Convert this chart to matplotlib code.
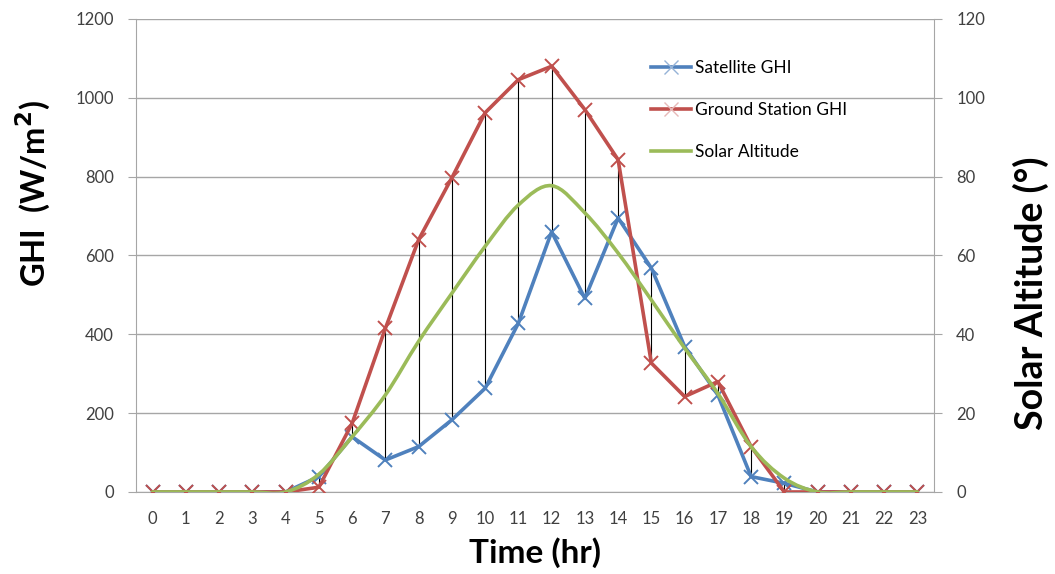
import matplotlib.pyplot as plt
import numpy as np
from matplotlib.path import Path
from matplotlib.patches import PathPatch
from matplotlib.lines import Line2D

plt.rcParams['font.family'] = ['Lato', 'DejaVu Sans']

hours = list(range(24))
satelliteGHI = [0, 0, 0, 0, 0, 39, 140, 81, 115, 183, 263, 428, 660, 491,
				695, 568, 369, 246, 39, 22, 0, 0, 0, 0]
groundGHI = [0, 0, 0, 0, 0, 12, 174, 415, 640, 797, 962, 1046, 1080, 970,
			 843, 327, 242, 280, 115, 0, 0, 0, 0, 0]
solarAltitude = [0, 0, 0, 0, 0, 4.5, 14, 24.6, 38.2, 50.4, 62.3, 72.8, 77.7, 70.8,
				 60.6, 48.7, 36.5, 25, 11.5, 3.5, 0, 0, 0, 0]

blue = '#4F81BD'
red = '#C0504D'
green = '#9BBB59'
grey = '#A6A6A6'
txt = '#404040'


def smoothPath(x, y):
	"""Bezier path through the points, like Excel's smoothed line."""
	x = np.asarray(x, float)
	y = np.asarray(y, float)
	n = len(x)
	verts = [(x[0], y[0])]
	codes = [Path.MOVETO]
	for i in range(n - 1):
		x0, y0 = (x[i - 1], y[i - 1]) if i > 0 else (x[i], y[i])
		x3, y3 = (x[i + 2], y[i + 2]) if i + 2 < n else (x[i + 1], y[i + 1])
		c1 = (x[i] + (x[i + 1] - x0) / 6, y[i] + (y[i + 1] - y0) / 6)
		c2 = (x[i + 1] - (x3 - x[i]) / 6, y[i + 1] - (y3 - y[i]) / 6)
		verts += [c1, c2, (x[i + 1], y[i + 1])]
		codes += [Path.CURVE4] * 3
	return Path(verts, codes)


fig = plt.figure(figsize=(10.55, 5.74), dpi=100)
ax = fig.add_axes([0.1289, 0.1429, 0.8853 - 0.1289, 0.967 - 0.1429])
ax2 = ax.twinx()

# high-low lines between the two GHI series
lows = np.minimum(satelliteGHI, groundGHI)
highs = np.maximum(satelliteGHI, groundGHI)
ax.vlines(hours, lows, highs, color='black', lw=0.8, zorder=2)

ax.plot(hours, satelliteGHI, color=blue, lw=2.6, marker='x', markersize=10,
		mew=1.4, zorder=3)
ax.plot(hours, groundGHI, color=red, lw=2.6, marker='x', markersize=10,
		mew=1.4, zorder=4)
ax2.add_patch(PathPatch(smoothPath(hours, solarAltitude), fill=False,
						edgecolor=green, lw=2.6, capstyle='round', zorder=5))

ax.set_xlim(-0.5, 23.5)
ax.set_ylim(0, 1200)
ax2.set_ylim(0, 120)
ax.set_yticks(np.arange(0, 1201, 200))
ax2.set_yticks(np.arange(0, 121, 20))
ax.set_xticks(hours)
ax.set_xticklabels([str(h) for h in hours])

ax.grid(axis='y', color=grey, lw=1)
ax.set_axisbelow(True)
for a in (ax, ax2):
	for s in a.spines.values():
		s.set_visible(False)
ax.spines['left'].set_visible(True)
ax.spines['left'].set_color(grey)
ax.spines['bottom'].set_visible(True)
ax.spines['bottom'].set_color(grey)
ax2.spines['right'].set_visible(True)
ax2.spines['right'].set_color(grey)

ax.tick_params(axis='y', length=6, color=grey, labelsize=12, labelcolor=txt, pad=10)
ax.tick_params(axis='x', length=0, labelsize=12, labelcolor=txt, pad=14)
ax2.tick_params(axis='y', length=6, color=grey, labelsize=12, labelcolor=txt, pad=10)

ax.set_xlabel('Time (hr)', fontsize=24, fontweight='bold', labelpad=7)
ax.set_ylabel('GHI  (W/m$^\\mathbf{2}$)', fontsize=23.5, fontweight='bold', labelpad=16)
ax2.set_ylabel('Solar Altitude (°)', fontsize=27, fontweight='bold', labelpad=20)
ax.yaxis.label.set_y(0.632)
ax2.yaxis.label.set_y(0.42)

handles = [
	Line2D([], [], color=blue, lw=2.6, marker='x', markersize=10, mew=1, markeredgecolor='#95B3D7'),
	Line2D([], [], color=red, lw=2.6, marker='x', markersize=10, mew=1, markeredgecolor='#E6B9B8'),
	Line2D([], [], color=green, lw=2.6),
]
fig.legend(handles, ['Satellite GHI', 'Ground Station GHI', 'Solar Altitude'],
		   loc='upper left', bbox_to_anchor=(0.602, 0.922), frameon=False,
		   fontsize=12.5, labelspacing=1.5, handlelength=2.3, handletextpad=0.25,
		   labelcolor='black')

fig.savefig('out.png', dpi=100)
